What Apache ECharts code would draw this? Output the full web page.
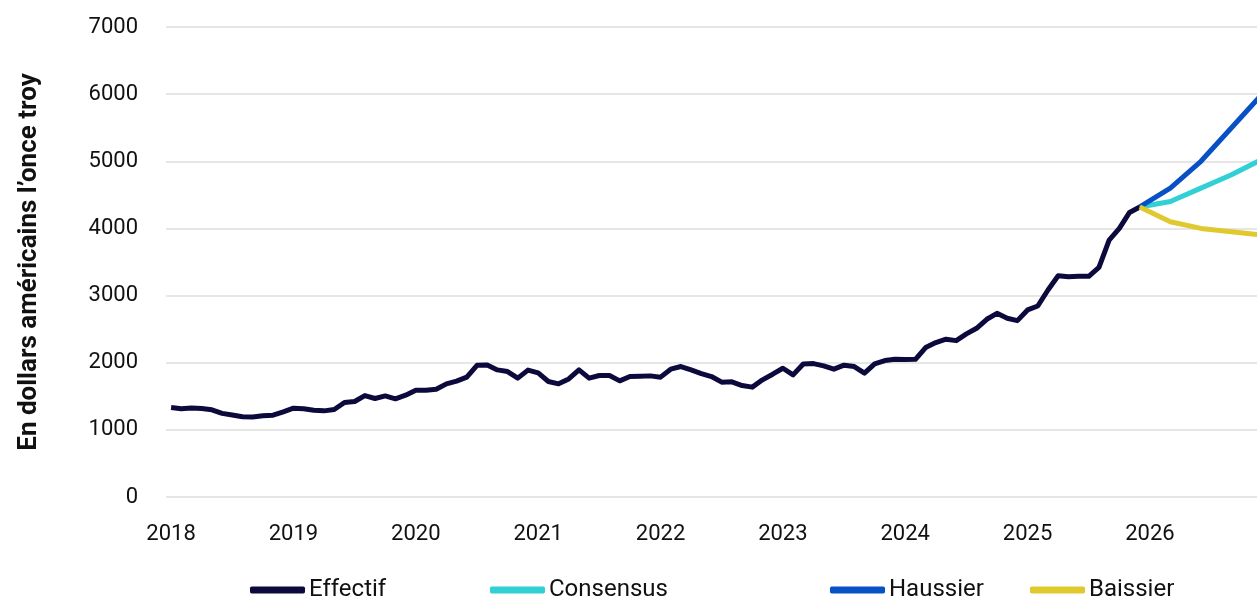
<!DOCTYPE html>
<html>
<head>
<meta charset="utf-8">
<script src="https://cdn.jsdelivr.net/npm/echarts@6/dist/echarts.min.js"></script>
<style>
html,body{margin:0;padding:0;background:#fff;}
#c{width:1257px;height:601px;}
</style>
</head>
<body>
<div id="c"></div>
<script>
// ---- Data ----
const startYear = 2018;
const yearLabels = ['2018','2019','2020','2021','2022','2023','2024','2025','2026'];
const yTicks = [0,1000,2000,3000,4000,5000,6000,7000];
const seriesNames = ['Effectif','Consensus','Haussier','Baissier'];
// Monthly values, Jan 2018 .. Dec 2025
const effectif = [
  1333,1315,1325,1318,1298,1245,1220,1196,1192,1209,1219,1269,
  1323,1313,1293,1283,1303,1407,1422,1511,1467,1506,1462,1516,
  1591,1591,1605,1685,1725,1785,1962,1967,1893,1868,1770,1890,
  1848,1720,1685,1759,1893,1770,1809,1809,1730,1794,1799,1804,
  1785,1904,1943,1893,1839,1794,1710,1715,1660,1636,1745,1829,
  1918,1819,1982,1987,1953,1904,1963,1943,1844,1982,2032,2052,
  2047,2050,2225,2300,2350,2329,2429,2513,2647,2736,2662,2627,
  2786,2845,3083,3296,3281,3286,3286,3420,3827,4000,4238,4320
];
// Forecasts (quarterly points)
const forecastMonths = ['2025-12','2026-03','2026-06','2026-09','2026-12'];
const consensus = [4320,4400,4600,4800,5030];
const haussier  = [4320,4600,5000,5500,6000];
const baissier  = [4320,4100,4000,3950,3900];

// ---- Helpers ----
function monthIndex(s){const p=s.split('-');return (parseInt(p[0])-startYear)*12+parseInt(p[1])-1;}
const effData = effectif.map((v,i)=>[i,v]);
const fIdx = forecastMonths.map(monthIndex);
const pair = arr => arr.map((v,i)=>[fIdx[i],v]);
const labelVals = yearLabels.map(y=>(parseInt(y)-startYear)*12);

const colors = {Effectif:'#0c0a3c',Consensus:'#30d0d4',Haussier:'#0751c4',Baissier:'#e0c92e'};
const FONT = 'Roboto';

const chart = echarts.init(document.getElementById('c'), null, {renderer:'canvas'});
function mkLegend(name,left){
  return {
    data:[name], left:left, top:578, icon:'roundRect',
    itemWidth:55, itemHeight:7, itemGap:0, padding:0,
    textStyle:{fontFamily:FONT,fontSize:24,color:'#111', padding:[0,0,0,-1]}
  };
}
chart.setOption({
  animation:false,
  textStyle:{fontFamily:FONT},
  grid:{left:166,right:0,top:27,bottom:104,containLabel:false},
  legend:[mkLegend('Effectif',250),mkLegend('Consensus',490),mkLegend('Haussier',830),mkLegend('Baissier',1030)],
  xAxis:{
    type:'value', min:-0.5, max:106.5,
    axisLine:{show:false}, axisTick:{show:false}, splitLine:{show:false},
    axisLabel:{
      customValues:labelVals,
      formatter:v=>String(startYear+Math.round(v/12)),
      fontFamily:FONT,fontSize:22,color:'#111',margin:26
    }
  },
  yAxis:{
    type:'value', min:yTicks[0], max:yTicks[yTicks.length-1], interval:1000,
    name:'En dollars américains l’once troy',
    nameLocation:'middle', nameRotate:90, nameGap:124,
    nameTextStyle:{fontFamily:FONT,fontSize:26,fontWeight:'bold',color:'#111'},
    axisLine:{show:false}, axisTick:{show:false},
    splitLine:{lineStyle:{color:'#e6e6e6',width:2}},
    axisLabel:{fontFamily:FONT,fontSize:22,color:'#111',margin:28,formatter:v=>String(v)}
  },
  series:[
    {name:'Effectif',type:'line',data:effData,showSymbol:false,z:5,
     lineStyle:{color:colors.Effectif,width:5,join:'round'},itemStyle:{color:colors.Effectif}},
    {name:'Consensus',type:'line',data:pair(consensus),showSymbol:false,z:3,
     lineStyle:{color:colors.Consensus,width:5,join:'round'},itemStyle:{color:colors.Consensus}},
    {name:'Haussier',type:'line',data:pair(haussier),showSymbol:false,z:4,
     lineStyle:{color:colors.Haussier,width:5,join:'round'},itemStyle:{color:colors.Haussier}},
    {name:'Baissier',type:'line',data:pair(baissier),showSymbol:false,z:6,
     lineStyle:{color:colors.Baissier,width:5,join:'round'},itemStyle:{color:colors.Baissier}}
  ]
});
</script>
</body>
</html>
